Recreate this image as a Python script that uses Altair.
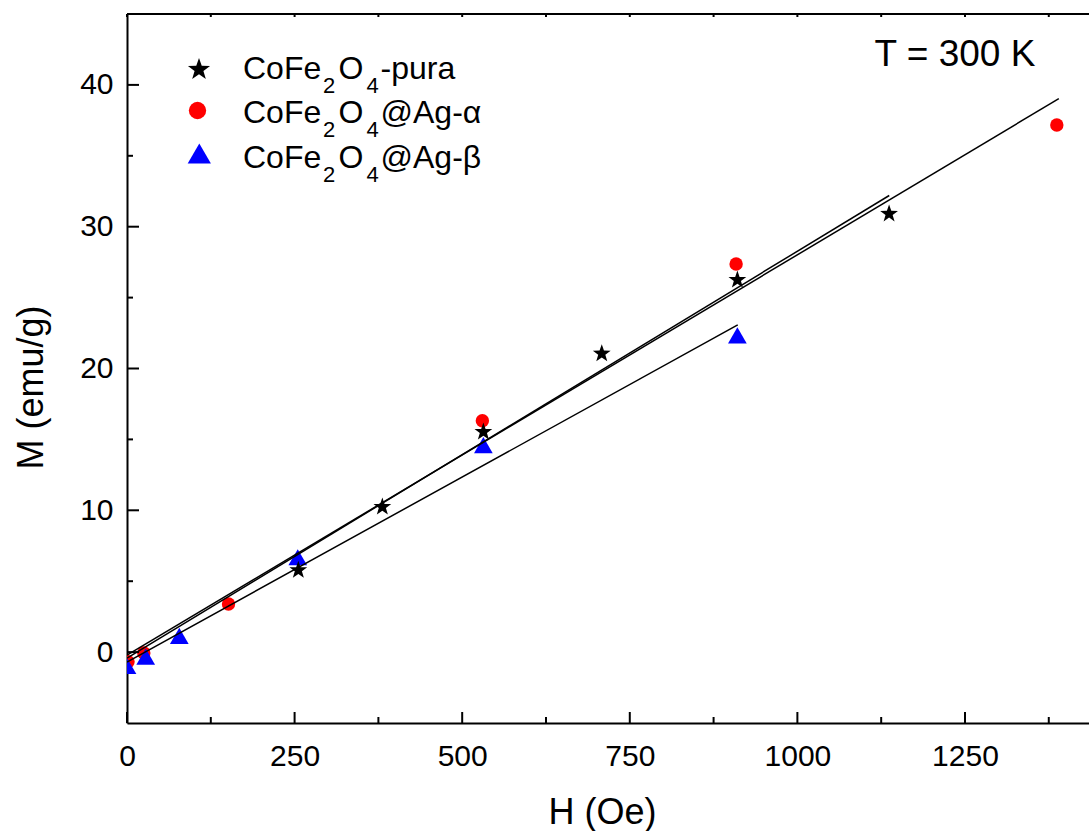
import altair as alt
import pandas as pd

FONT = "Liberation Sans"

# ---------------- data ----------------
series = ["CoFe2O4-pura", "CoFe2O4@Ag-α", "CoFe2O4@Ag-β"]

pura_h = [255.6, 380.9, 531.6, 708.2, 910.5, 1136.8]
pura_m = [5.84, 10.30, 15.59, 21.11, 26.31, 30.97]

alpha_h = [1.5, 25.1, 151.4, 530.1, 908.6, 1387.0]
alpha_m = [-0.68, -0.06, 3.39, 16.32, 27.37, 37.17]

beta_h = [0.0, 27.9, 78.0, 254.7, 531.6, 910.5]
beta_m = [-0.98, -0.32, 1.14, 6.69, 14.60, 22.34]

# linear-fit lines (end points)
fit_pura_h = [0, 1137]
fit_pura_m = [-0.43, 32.20]
fit_alpha_h = [0, 1390]
fit_alpha_m = [-0.22, 39.03]
fit_beta_h = [0, 911]
fit_beta_m = [-0.70, 23.07]

x_major = [0, 250, 500, 750, 1000, 1250]
x_minor = [125, 375, 625, 875, 1125, 1375]
y_major = [0, 10, 20, 30, 40]
y_minor = [5, 15, 25, 35]

annotation = ["T = 300 K"]

# ---------------- layout / styles ----------------
W, H = 962, 709
xscale = alt.Scale(domain=[0, 1435], nice=False, zero=False)
yscale = alt.Scale(domain=[-5, 45], nice=False, zero=False)

STAR = ("M0,-0.9045L0.235,-0.2285L0.951,-0.2135L0.380,0.2195L0.588,0.9045"
        "L0,0.4955L-0.588,0.9045L-0.380,0.2195L-0.951,-0.2135L-0.235,-0.2285Z")

xaxis = alt.Axis(
    title="H (Oe)", values=x_major, format="d", grid=False, ticks=False, tickSize=0,
    domain=True, domainColor="black", domainWidth=2,
    labelFont=FONT, labelFontSize=30, labelColor="black", labelPadding=18,
    labelFlush=False, labelOverlap=False,
    titleFont=FONT, titleFontSize=36, titleFontWeight="normal", titleColor="black",
    titleX=475, titleY=100, titleBaseline="alphabetic", titleAlign="center",
)
yaxis = alt.Axis(
    title="M (emu/g)", values=y_major, format="d", grid=False, ticks=False, tickSize=0,
    domain=True, domainColor="black", domainWidth=2,
    labelFont=FONT, labelFontSize=30, labelColor="black", labelPadding=14,
    labelOverlap=False,
    titleFont=FONT, titleFontSize=36, titleFontWeight="normal", titleColor="black",
    titleAngle=270, titleX=-85, titleY=373, titleBaseline="alphabetic", titleAlign="center",
)

X = lambda f: alt.X(f, scale=xscale, axis=xaxis)
Y = lambda f: alt.Y(f, scale=yscale, axis=yaxis)


def pts(hs, ms, shape, color, size):
    df = pd.DataFrame({"h": hs, "m": ms})
    return alt.Chart(df).mark_point(
        shape=shape, filled=True, size=size, color=color, opacity=1,
        strokeWidth=0, clip=True
    ).encode(x=X("h:Q"), y=Y("m:Q"))


def fit(hs, ms):
    df = pd.DataFrame({"h": hs, "m": ms})
    return alt.Chart(df).mark_line(color="black", strokeWidth=1.5, clip=True).encode(
        x=X("h:Q"), y=Y("m:Q"))


red = pts(alpha_h, alpha_m, "circle", "#ff0000", 180)
blue = pts(beta_h, beta_m, "triangle-up", "#0000ff", 350)
black = pts(pura_h, pura_m, STAR, "black", 350)

lines = [fit(fit_pura_h, fit_pura_m), fit(fit_alpha_h, fit_alpha_m), fit(fit_beta_h, fit_beta_m)]


def yticks(vals, length):
    return alt.Chart(pd.DataFrame({"v": vals})).mark_rule(color="black", strokeWidth=2).encode(
        y=Y("v:Q"), x=alt.value(0), x2=alt.value(length))


def xticks(vals, y0, y1):
    return alt.Chart(pd.DataFrame({"v": vals})).mark_rule(color="black", strokeWidth=2).encode(
        x=X("v:Q"), y=alt.value(y0), y2=alt.value(y1))


ticks = [yticks(y_major, 12), yticks(y_minor, 6),
         xticks(x_major, H, H - 11), xticks(x_minor, H, H - 6),
         xticks(x_major, 0, 3), xticks(x_minor, 0, 3)]

one = pd.DataFrame({"a": [0]})
top_line = alt.Chart(one).mark_rule(color="black", strokeWidth=2).encode(
    x=alt.value(0), x2=alt.value(W), y=alt.value(0))

note = alt.Chart(pd.DataFrame({"t": annotation})).mark_text(
    font=FONT, fontSize=37, align="center", baseline="alphabetic", color="black"
).encode(x=alt.value(828), y=alt.value(52), text="t:N")

# ---------------- legend (custom, for subscripts) ----------------
row_base = [65.3, 109.3, 153.7]
main_x = [116, 211.5, 253.5]
sub_x = [196, 239.5]
legend_layers = []
for i, name in enumerate(series):
    tail = name.split("O4", 1)[1]
    for txt, px in zip(["CoFe", "O", tail], main_x):
        legend_layers.append(alt.Chart(one).mark_text(
            text=txt, font=FONT, fontSize=32, align="left", baseline="alphabetic", color="black"
        ).encode(x=alt.value(px), y=alt.value(row_base[i])))
    for txt, px in zip(["2", "4"], sub_x):
        legend_layers.append(alt.Chart(one).mark_text(
            text=txt, font=FONT, fontSize=22, align="left", baseline="alphabetic", color="black"
        ).encode(x=alt.value(px), y=alt.value(row_base[i] + 14)))

legend_layers.append(alt.Chart(one).mark_point(
    shape=STAR, filled=True, size=540, color="black", opacity=1, strokeWidth=0
).encode(x=alt.value(72), y=alt.value(54.5)))
legend_layers.append(alt.Chart(one).mark_point(
    shape="circle", filled=True, size=300, color="#ff0000", opacity=1, strokeWidth=0
).encode(x=alt.value(70.5), y=alt.value(96.5)))
legend_layers.append(alt.Chart(one).mark_point(
    shape="triangle-up", filled=True, size=540, color="#0000ff", opacity=1, strokeWidth=0
).encode(x=alt.value(72.3), y=alt.value(139.5)))

chart = alt.layer(
    red, blue, black, *lines, *ticks, top_line, note, *legend_layers,
).properties(
    width=W, height=H,
    autosize=alt.AutoSizeParams(type="none"),
    padding={"left": 127, "top": 14, "right": 0, "bottom": 108},
).configure_view(stroke=None).configure(background="white")

chart.save("out.html", embed_options={"renderer": "svg", "actions": False})
